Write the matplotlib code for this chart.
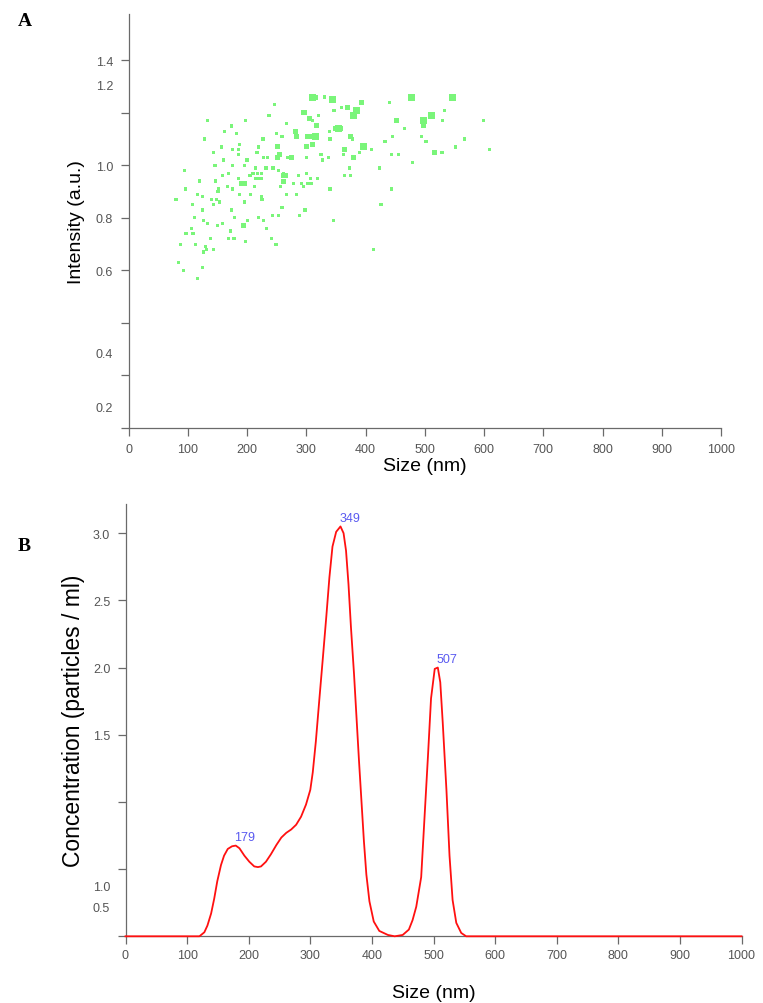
import numpy as np
import matplotlib
matplotlib.use("Agg")
import matplotlib.pyplot as plt

plt.rcParams["font.family"] = ["Liberation Sans", "DejaVu Sans"]

# Panel A: scatter of particle size vs intensity (weight = marker class)
size_nm = [80, 95, 96, 84, 93, 88, 97, 107, 109, 108, 111, 113, 117, 120, 117, 125, 125, 125, 127, 126,
           128, 130, 131, 133, 133, 140, 139, 143, 144, 144, 146, 148, 147, 150, 152, 151, 153, 157, 159, 159,
           162, 161, 167, 169, 169, 172, 174, 174, 176, 176, 176, 178, 179, 182, 185, 185, 186, 187, 187, 191,
           196, 196, 196, 194, 197, 198, 200, 201, 205, 206, 210, 212, 214, 215, 217, 218, 219, 220, 220, 224,
           224, 224, 226, 225, 227, 228, 228, 232, 233, 234, 237, 242, 243, 244, 247, 249, 250, 251, 251, 255,
           253, 253, 256, 259, 259, 261, 261, 262, 265, 266, 266, 269, 275, 278, 282, 284, 283, 287, 289, 292,
           295, 295, 297, 298, 300, 300, 301, 302, 302, 305, 306, 307, 308, 310, 315, 310, 311, 315, 318, 319,
           320, 325, 327, 331, 338, 339, 340, 340, 345, 346, 347, 350, 354, 358, 359, 363, 365, 365, 370, 373,
           374, 375, 378, 380, 385, 379, 390, 393, 397, 410, 414, 424, 426, 433, 440, 444, 444, 445, 452, 456,
           466, 477, 479, 494, 498, 498, 502, 512, 517, 529, 530, 534, 547, 552, 567, 599, 609]
intensity = [0.87, 0.98, 0.91, 0.63, 0.60, 0.70, 0.74, 0.76, 0.74, 0.85, 0.80, 0.70, 0.57, 0.94, 0.89, 0.88, 0.83, 0.61, 0.79, 0.67,
             1.10, 0.69, 0.68, 1.17, 0.78, 0.87, 0.72, 0.85, 0.68, 1.05, 1.00, 0.87, 0.94, 0.77, 0.91, 0.90, 0.86, 1.07, 0.96, 0.78,
             1.13, 1.02, 0.92, 0.97, 0.72, 0.75, 1.15, 0.83, 0.91, 1.00, 1.06, 0.72, 0.80, 1.12, 1.04, 0.95, 1.06, 0.89, 1.08, 0.93,
             0.93, 0.86, 1.00, 0.77, 1.17, 0.71, 1.02, 0.79, 0.96, 0.89, 0.97, 0.92, 0.99, 0.95, 1.05, 0.97, 1.07, 0.80, 0.95, 0.88,
             0.95, 0.87, 0.87, 0.97, 1.10, 0.79, 1.03, 0.99, 0.76, 1.03, 1.19, 0.72, 0.81, 0.99, 1.23, 0.70, 1.12, 1.07, 1.03, 1.04,
             0.81, 0.98, 0.92, 1.11, 0.84, 0.97, 0.96, 0.94, 0.96, 0.89, 1.16, 1.03, 1.03, 0.93, 1.13, 1.11, 0.89, 0.96, 0.81, 0.93,
             0.92, 1.20, 1.20, 0.83, 0.97, 1.03, 1.07, 1.11, 0.93, 1.11, 1.18, 0.95, 0.93, 1.26, 1.26, 1.08, 1.17, 1.11, 1.15, 0.95,
             1.19, 1.04, 1.02, 1.26, 1.03, 1.13, 1.10, 0.91, 1.25, 0.79, 1.21, 1.14, 1.14, 1.14, 1.22, 1.04, 1.06, 0.96, 1.22, 0.99,
             1.11, 0.96, 1.10, 1.19, 1.21, 1.03, 1.05, 1.24, 1.07, 1.06, 0.68, 0.99, 0.85, 1.09, 1.24, 0.91, 1.04, 1.11, 1.17, 1.04,
             1.14, 1.26, 1.01, 1.11, 1.17, 1.15, 1.09, 1.19, 1.05, 1.05, 1.17, 1.21, 1.26, 1.07, 1.10, 1.17, 1.06]
weight = [1, 1, 1, 1, 1, 1, 1, 1, 1, 1, 1, 1, 1, 1, 1, 1, 1, 1, 1, 1,
          1, 1, 1, 1, 1, 1, 1, 1, 1, 1, 1, 1, 1, 1, 1, 1, 1, 1, 1, 1,
          1, 1, 1, 1, 1, 1, 1, 1, 1, 1, 1, 1, 1, 1, 1, 1, 1, 1, 1, 2,
          2, 1, 1, 2, 1, 1, 1, 1, 1, 1, 1, 1, 1, 1, 1, 1, 1, 1, 1, 1,
          1, 1, 1, 1, 1, 1, 1, 1, 1, 1, 1, 1, 1, 1, 1, 1, 1, 2, 2, 2,
          1, 1, 1, 1, 1, 1, 2, 2, 2, 1, 1, 1, 2, 1, 2, 2, 1, 1, 1, 1,
          1, 2, 2, 1, 1, 1, 2, 2, 1, 2, 2, 1, 1, 3, 2, 2, 1, 3, 2, 1,
          1, 1, 1, 1, 1, 1, 1, 1, 3, 1, 1, 2, 3, 2, 1, 1, 2, 1, 2, 1,
          2, 1, 1, 3, 3, 2, 1, 2, 3, 1, 1, 1, 1, 1, 1, 1, 1, 1, 2, 1,
          1, 3, 1, 1, 3, 2, 1, 3, 2, 1, 1, 1, 3, 1, 1, 1, 1]

# Panel B: size distribution
dist_nm = [0, 120, 128, 133, 139, 144, 149, 155, 160, 166, 173, 179, 185, 193, 201, 209, 215, 220, 228, 236,
           245, 253, 261, 269, 277, 285, 293, 300, 304, 309, 315, 320, 326, 331, 336, 342, 349, 354, 358, 362,
           366, 371, 375, 379, 383, 387, 391, 396, 403, 412, 426, 437, 450, 460, 466, 472, 480, 485, 491, 496,
           502, 507, 511, 515, 521, 526, 531, 537, 545, 553, 1000]
conc = [0, 0, 0.03, 0.08, 0.17, 0.28, 0.41, 0.53, 0.60, 0.65, 0.67, 0.675, 0.655, 0.60, 0.555, 0.52, 0.515, 0.52, 0.555, 0.61,
        0.68, 0.735, 0.77, 0.795, 0.83, 0.89, 0.98, 1.09, 1.22, 1.45, 1.78, 2.05, 2.38, 2.67, 2.90, 3.01, 3.05, 3.00, 2.87, 2.62,
        2.30, 1.95, 1.63, 1.31, 1.01, 0.71, 0.46, 0.26, 0.11, 0.04, 0.01, 0.0, 0.01, 0.05, 0.12, 0.22, 0.44, 0.85, 1.34, 1.77,
        1.99, 2.00, 1.89, 1.59, 1.09, 0.60, 0.27, 0.10, 0.025, 0.0, 0.0]
peaks = [179, 349, 507]

x_ticks = list(range(0, 1001, 100))
a_ticks = [0, 0.2, 0.4, 0.6, 0.8, 1.0, 1.2, 1.4]
a_labels = ["", "", "", "0.6", "0.8", "1.0", "", "1.4"]
a_extra = [1.309, 0.286, 0.08]
a_extra_labels = ["1.2", "0.4", "0.2"]
b_ticks = [0, 0.5, 1.0, 1.5, 2.0, 2.5, 3.0]
b_labels = ["", "", "", "1.5", "2.0", "2.5", "3.0"]
b_extra = [0.376, 0.225]
b_extra_labels = ["1.0", "0.5"]

W, H = 763, 1004
AXC = "#6a6a6a"
TXC = "#555555"


def style(ax, pad_x):
    for s in ["top", "right"]:
        ax.spines[s].set_visible(False)
    for s in ["left", "bottom"]:
        ax.spines[s].set_color(AXC); ax.spines[s].set_linewidth(0.9)
    ax.tick_params(which="major", length=6, width=0.9, color=AXC, labelcolor=TXC, labelsize=9)
    ax.tick_params(axis="x", pad=pad_x)
    ax.tick_params(axis="y", pad=5)
    ax.tick_params(which="minor", length=0, labelcolor=TXC, labelsize=9, pad=11)
    ax.set_xlim(0, 1000)
    ax.set_xticks(x_ticks)


fig = plt.figure(figsize=(W / 100, H / 100), dpi=100)

axA = fig.add_axes([128.5 / W, 1 - 429 / H, (721 - 128.5) / W, (429 - 15) / H])
style(axA, 5)
px = {1: 3.2, 2: 5.0, 3: 7.0}
sizes = [(px[w] * 0.72) ** 2 for w in weight]
axA.scatter(size_nm, intensity, s=sizes, marker="s", color="#7af57a", edgecolors="none", zorder=3)
axA.set_ylim(0, 1.576)
axA.set_yticks(a_ticks, a_labels)
axA.set_yticks(a_extra, a_extra_labels, minor=True)
axA.set_xlabel("Size (nm)", fontsize=14, labelpad=1)
axA.set_ylabel("Intensity (a.u.)", fontsize=14, labelpad=8)

axB = fig.add_axes([125.5 / W, 1 - 937.3 / H, 616 / W, (937.3 - 505) / H])
style(axB, 3)
axB.plot(dist_nm, conc, color="#ff1010", lw=1.3, zorder=3, clip_on=False)
axB.set_ylim(0, 3.217)
axB.set_yticks(b_ticks, b_labels)
axB.set_yticks(b_extra, b_extra_labels, minor=True)
axB.set_xlabel("Size (nm)", fontsize=14, labelpad=17)
axB.set_ylabel("Concentration (particles / ml)", fontsize=16.5, labelpad=6)
for p in peaks:
    h = conc[dist_nm.index(p)]
    axB.annotate(str(p), (p, h), xytext=(-1, 2), textcoords="offset points",
                 ha="left", va="bottom", fontsize=9, color="#5a5af0")

fig.text(18 / W, 1 - 22 / H, "A", fontsize=14, fontweight="bold", family="Liberation Serif", va="center")
fig.text(18 / W, 1 - 547 / H, "B", fontsize=14, fontweight="bold", family="Liberation Serif", va="center")

fig.savefig("out.png", dpi=100)
